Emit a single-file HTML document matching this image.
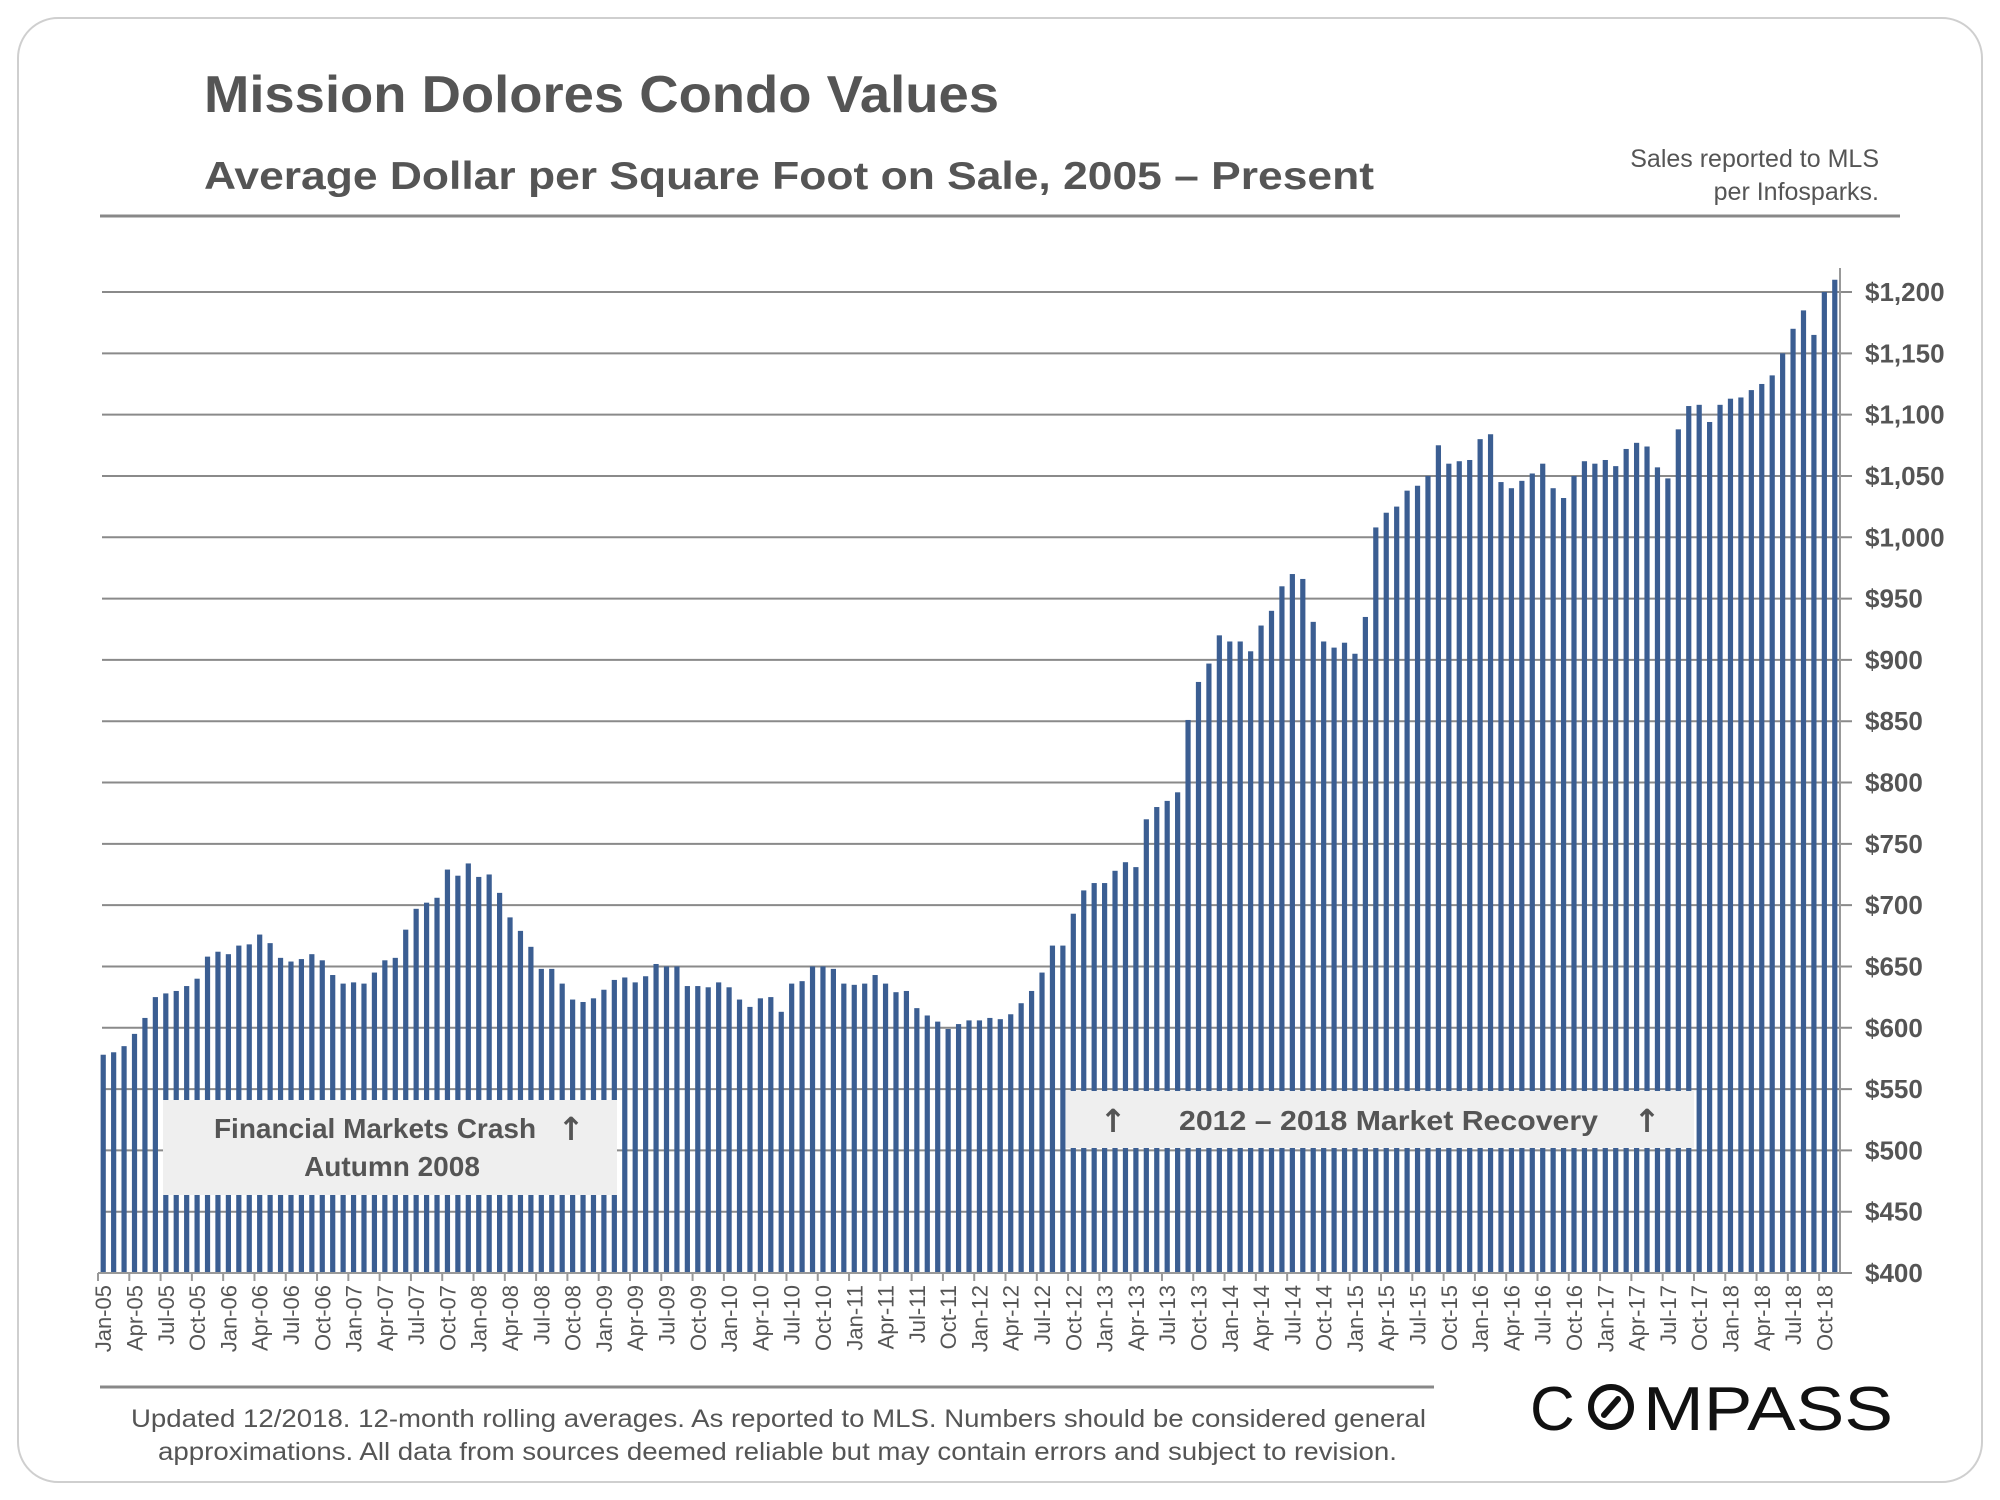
<!DOCTYPE html>
<html><head><meta charset="utf-8"><style>
html,body{margin:0;padding:0;background:#fff;}
svg{display:block;font-family:"Liberation Sans",sans-serif;}
</style></head><body>
<svg id="chart" width="2000" height="1500" viewBox="0 0 2000 1500" xmlns="http://www.w3.org/2000/svg">
<rect x="18" y="18" width="1964" height="1464" rx="40" fill="#fff" stroke="#cfcfcf" stroke-width="2"/>
<text x="204" y="112" font-size="52" font-weight="bold" fill="#555" textLength="795" lengthAdjust="spacingAndGlyphs">Mission Dolores Condo Values</text>
<text x="204" y="189" font-size="39" font-weight="bold" fill="#555" textLength="1170" lengthAdjust="spacingAndGlyphs">Average Dollar per Square Foot on Sale, 2005 – Present</text>
<text x="1879" y="167" font-size="25" fill="#555" text-anchor="end">Sales reported to MLS</text>
<text x="1879" y="200" font-size="25" fill="#555" text-anchor="end">per Infosparks.</text>
<line x1="100" y1="216" x2="1900" y2="216" stroke="#888" stroke-width="3"/>
<g id="grid"></g>
<g id="bars"></g>
<g id="axes"></g>
<g>
<rect x="163" y="1100" width="454" height="95" fill="#efefef"/>
<text x="375" y="1138" font-size="28" font-weight="bold" fill="#555" text-anchor="middle">Financial Markets Crash</text>
<text x="571" y="1140" font-size="32" font-weight="bold" fill="#555" text-anchor="middle" font-family="DejaVu Sans, sans-serif">↑</text>
<text x="392" y="1176" font-size="28" font-weight="bold" fill="#555" text-anchor="middle">Autumn 2008</text>
</g>
<g>
<rect x="1066" y="1091" width="628" height="57" fill="#efefef"/>
<text x="1113" y="1132" font-size="32" font-weight="bold" fill="#555" text-anchor="middle" font-family="DejaVu Sans, sans-serif">↑</text>
<text x="1179" y="1130" font-size="28" font-weight="bold" fill="#555" textLength="419" lengthAdjust="spacingAndGlyphs">2012 – 2018 Market Recovery</text>
<text x="1647" y="1132" font-size="32" font-weight="bold" fill="#555" text-anchor="middle" font-family="DejaVu Sans, sans-serif">↑</text>
</g>
<line x1="100" y1="1387" x2="1434" y2="1387" stroke="#888" stroke-width="3"/>
<text x="131" y="1427" font-size="25" fill="#555" textLength="1295" lengthAdjust="spacingAndGlyphs">Updated 12/2018. 12-month rolling averages. As reported to MLS. Numbers should be considered general</text>
<text x="158" y="1460" font-size="25" fill="#555" textLength="1239" lengthAdjust="spacingAndGlyphs">approximations. All data from sources deemed reliable but may contain errors and subject to revision.</text>
<g>
<text x="1530" y="1430" font-size="62" fill="#111">C</text>
<circle cx="1611" cy="1407" r="20" fill="none" stroke="#111" stroke-width="6"/>
<line x1="1604" y1="1415" x2="1618" y2="1399" stroke="#111" stroke-width="6" stroke-linecap="round"/>
<text x="1643" y="1430" font-size="62" fill="#111" textLength="250" lengthAdjust="spacingAndGlyphs">MPASS</text>
</g>
</svg>
<script>
const startYear = 2005;
const monthNames = ["Jan","Feb","Mar","Apr","May","Jun","Jul","Aug","Sep","Oct","Nov","Dec"];
const values2005 = [578,580,585,595,608,625,628,630,634,640,658,662];
const values2006 = [660,667,668,676,669,657,654,656,660,655,643,636];
const values2007 = [637,636,645,655,657,680,697,702,706,729,724,734];
const values2008 = [723,725,710,690,679,666,648,648,636,623,621,624];
const values2009 = [631,639,641,637,642,652,650,650,634,634,633,637];
const values2010 = [633,623,617,624,625,613,636,638,650,650,648,636];
const values2011 = [635,636,643,636,629,630,616,610,605,599,603,606];
const values2012 = [606,608,607,611,620,630,645,667,667,693,712,718];
const values2013 = [718,728,735,731,770,780,785,792,851,882,897,920];
const values2014 = [915,915,907,928,940,960,970,966,931,915,910,914];
const values2015 = [905,935,1008,1020,1025,1038,1042,1050,1075,1060,1062,1063];
const values2016 = [1080,1084,1045,1040,1046,1052,1060,1040,1032,1050,1062,1060];
const values2017 = [1063,1058,1072,1077,1074,1057,1048,1088,1107,1108,1094,1108];
const values2018 = [1113,1114,1120,1125,1132,1150,1170,1185,1165,1200,1210];
const yTicks = [400,450,500,550,600,650,700,750,800,850,900,950,1000,1050,1100,1150,1200];
const yTickLabels = ["$400","$450","$500","$550","$600","$650","$700","$750","$800","$850","$900","$950","$1,000","$1,050","$1,100","$1,150","$1,200"];

const values = [].concat(values2005,values2006,values2007,values2008,values2009,values2010,values2011,values2012,values2013,values2014,values2015,values2016,values2017,values2018);
const categories = values.map((v,i)=>monthNames[i%12]+"-"+String((startYear+Math.floor(i/12))%100).padStart(2,"0"));

const NS="http://www.w3.org/2000/svg";
const plotL=98, plotR=1840, plotTop=292, plotBot=1273, yMin=400, yMax=1200;
const band=(plotR-plotL)/categories.length;
function xScale(i){return plotL+band*i;}
function yScale(v){return plotBot-(v-yMin)/(yMax-yMin)*(plotBot-plotTop);}
function mk(tag,attrs,parent){const e=document.createElementNS(NS,tag);for(const k in attrs)e.setAttribute(k,attrs[k]);parent.appendChild(e);return e;}

const grid=document.getElementById("grid"), bars=document.getElementById("bars"), axes=document.getElementById("axes");
yTicks.forEach((t,i)=>{
  const y=yScale(t);
  const l=mk("line",{x1:102,x2:1852,y1:y,y2:y,stroke:"#8a8a8a","stroke-width":2},grid);
  
  
  const tx=mk("text",{x:1865,y:y+9,"font-size":26,"font-weight":"bold",fill:"#555"},axes);
  tx.textContent=yTickLabels[i];
  
  
});
values.forEach((v,i)=>{
  const y=yScale(v);
  const r=mk("rect",{x:xScale(i)+band/2-2.6,y:y,width:5.2,height:plotBot-y,fill:"#3b5e92"},bars);
  
  
});
const ax=mk("line",{x1:plotL,x2:plotR,y1:plotBot,y2:plotBot,stroke:"#999","stroke-width":2},axes);


const ay=mk("line",{x1:plotR,x2:plotR,y1:268,y2:plotBot,stroke:"#999","stroke-width":2},axes);


categories.forEach((c,i)=>{
  if(i%3!==0)return;
  const x=xScale(i);
  const tk=mk("line",{x1:x,x2:x,y1:plotBot,y2:plotBot+8,stroke:"#999","stroke-width":2},axes);
  
  
  const cx=x+band/2+8;
  const t=mk("text",{x:cx,y:1285,"font-size":22,fill:"#555","text-anchor":"end",transform:`rotate(-90 ${cx} 1285)`},axes);
  t.textContent=c;
  
  
});
</script>
</body></html>
